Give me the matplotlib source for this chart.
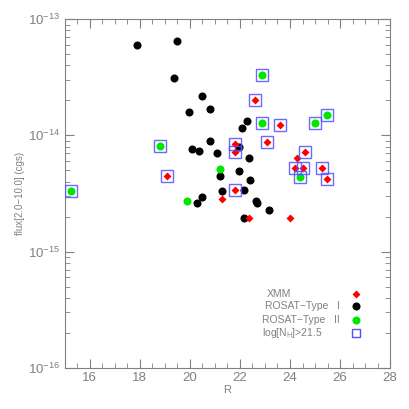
import matplotlib
matplotlib.use("Agg")
import matplotlib.pyplot as plt

# XMM sources (red), R magnitude and 2-10 keV flux
xmm_r = [19.10, 22.60, 21.80, 21.80, 21.80, 21.29, 22.38, 23.07, 23.59,
         24.60, 24.28, 24.18, 24.50, 25.29, 25.49, 23.99]
xmm_f = [4.46e-15, 2.03e-14, 8.4e-15, 7.13e-15, 3.36e-15, 2.82e-15, 1.96e-15, 8.71e-15, 1.23e-14,
         7.23e-15, 6.34e-15, 5.2e-15, 5.26e-15, 5.26e-15, 4.18e-15, 1.94e-15]
xmm_nh = [True, True, True, True, True, False, False, True, True,
          True, False, True, True, True, True, False]

# ROSAT type I (black)
t1_r = [17.88, 19.49, 19.37, 20.47, 19.98, 20.79, 22.29, 22.09, 20.08, 20.38, 20.79, 21.09,
        21.97, 22.38, 21.19, 21.98, 22.40, 21.29, 22.18, 20.48, 20.28, 22.64, 22.69, 23.18, 22.17]
t1_f = [6.0e-14, 6.45e-14, 3.14e-14, 2.19e-14, 1.6e-14, 1.69e-14, 1.33e-14, 1.15e-14, 7.7e-15,
        7.4e-15, 8.87e-15, 7.1e-15, 7.98e-15, 6.37e-15, 4.49e-15, 4.95e-15, 4.09e-15, 3.31e-15,
        3.42e-15, 2.92e-15, 2.63e-15, 2.72e-15, 2.6e-15, 2.27e-15, 1.96e-15]

# ROSAT type II (green)
t2_r = [15.27, 18.80, 19.88, 21.19, 22.89, 22.89, 24.99, 25.49, 24.39]
t2_f = [3.31e-15, 8.09e-15, 2.72e-15, 5.15e-15, 3.29e-14, 1.27e-14, 1.28e-14, 1.51e-14, 4.4e-15]
t2_nh = [True, True, False, False, True, True, True, True, True]

x_ticks = [16, 18, 20, 22, 24, 26, 28]
y_ticks = [1e-16, 1e-15, 1e-14, 1e-13]

GRAY = "#808080"
RED, BLACK, GREEN, BLUE = "red", "black", "#00e600", "#5050ff"
plt.rcParams["font.family"] = ["Liberation Sans", "DejaVu Sans"]

fig = plt.figure(figsize=(4.09, 4.09), dpi=100)
ax = fig.add_axes([0.158, 0.101, 0.796, 0.852])

box_r = [r for r, n in zip(t2_r, t2_nh) if n] + [r for r, n in zip(xmm_r, xmm_nh) if n]
box_f = [f for f, n in zip(t2_f, t2_nh) if n] + [f for f, n in zip(xmm_f, xmm_nh) if n]

ax.plot(t1_r, t1_f, "o", color=BLACK, ms=5.8, mec="none", zorder=3)
ax.plot(t2_r, t2_f, "o", color=GREEN, ms=5.8, mec="none", zorder=3)
ax.plot(xmm_r, xmm_f, "D", color=RED, ms=4.2, mec="none", zorder=4)
ax.plot(box_r, box_f, "s", mfc="none", mec=BLUE, mew=1.0, ms=8.0, alpha=0.85, zorder=5)

ax.set_yscale("log")
ax.set_xlim(15, 28)
ax.set_ylim(1e-16, 1e-13)
ax.set_xticks(x_ticks)
ax.set_xticks([x / 2 for x in range(30, 57)], minor=True)
ax.set_yticks(y_ticks)

for s in ax.spines.values():
    s.set_color(GRAY)
ax.tick_params(which="both", direction="in", top=True, right=True, colors=GRAY,
               labelsize=9.5, pad=3)
ax.tick_params(which="major", length=6.5)
ax.tick_params(which="minor", length=3.5)
ax.set_xlabel("R", color=GRAY, fontsize=8, labelpad=1)
ax.set_ylabel("flux[2.0\u221210.0] (cgs)", color=GRAY, fontsize=7, labelpad=2)

# IDL-style legend: left-aligned labels, symbols in a column on the right
legend_rows = [
    ("XMM", dict(marker="D", color=RED, ms=4.2, mec="none"), 0.621, 0.212),
    ("ROSAT\u2212Type   I", dict(marker="o", color=BLACK, ms=5.8, mec="none"), 0.614, 0.178),
    ("ROSAT\u2212Type   II", dict(marker="o", color=GREEN, ms=5.8, mec="none"), 0.606, 0.137),
    ("log[N$_\\mathregular{H}$]>21.5", dict(marker="s", mfc="none", mec=BLUE, mew=1.0, ms=6.0), 0.606, 0.099),
]
for text, style, tx, ty in legend_rows:
    ax.text(tx, ty, text, transform=ax.transAxes, ha="left", va="center",
            fontsize=7.5, color=GRAY)
    ax.plot([0.894], [ty], transform=ax.transAxes, linestyle="none", clip_on=False, **style)

fig.savefig("out.png", dpi=100)
